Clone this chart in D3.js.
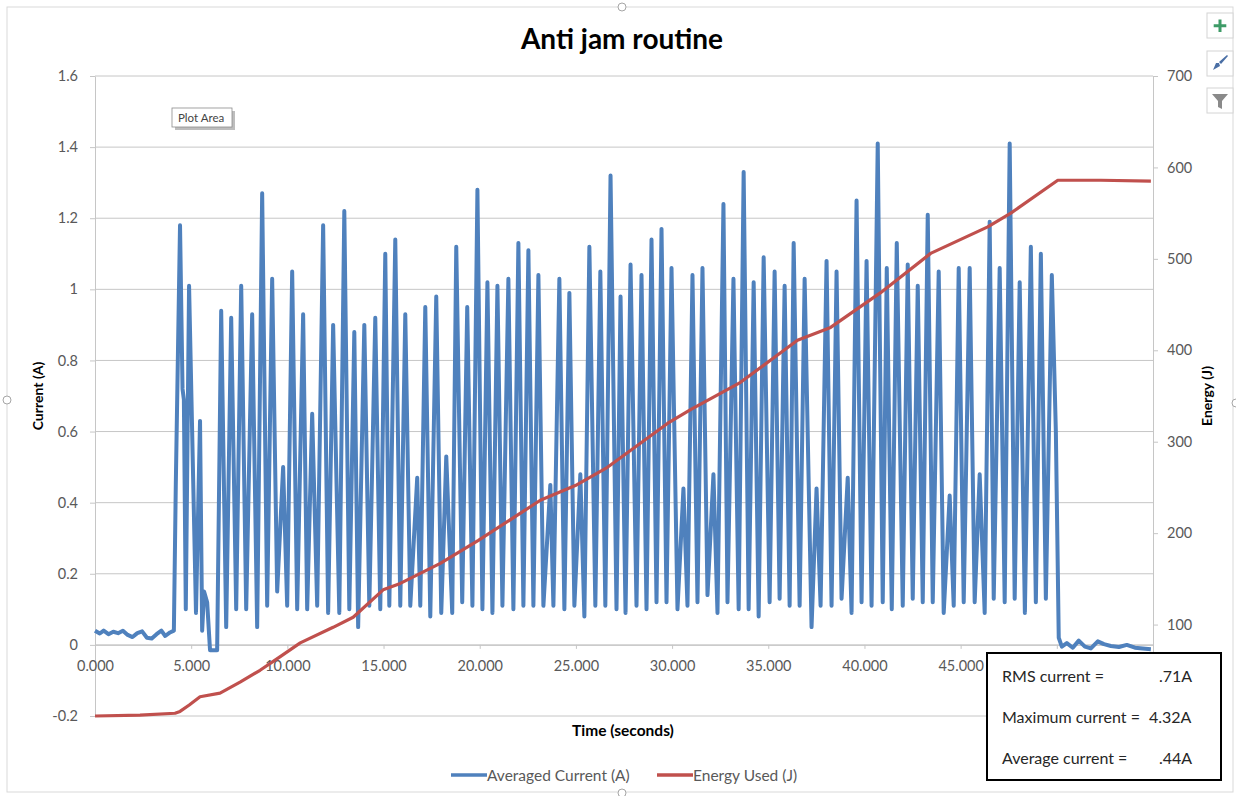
<!DOCTYPE html>
<html>
<head>
<meta charset="utf-8">
<script src="https://cdn.jsdelivr.net/npm/d3@7"></script>
<style>
  body { margin: 0; background: #fff; }
  text { font-family: Lato, "Open Sans", sans-serif; }
</style>
</head>
<body>
<script>
// chart data
var chartTitle = "Anti jam routine";
var xTitle = "Time (seconds)";
var leftTitle = "Current (A)";
var rightTitle = "Energy (J)";
var seriesNames = ["Averaged Current (A)", "Energy Used (J)"];
var seriesColors = ["#4F81BD", "#C0504D"];

var xTicks = [0, 5, 10, 15, 20, 25, 30, 35, 40, 45, 50, 55];
var leftTicks = [-0.2, 0, 0.2, 0.4, 0.6, 0.8, 1, 1.2, 1.4, 1.6];
var rightTicks = [0, 100, 200, 300, 400, 500, 600, 700];
// labels that sit under the stats box in the picture
var hiddenX = [50, 55];
var hiddenRight = [0];

var statLabels = ["RMS current =", "Maximum current =", "Average current ="];
var statValues = [".71A", "4.32A", ".44A"];

// averaged current: time (s) and amps
var currentTime = [
  0, 0.25, 0.45, 0.7, 0.95, 1.2, 1.45, 1.7, 1.95, 2.2, 2.45, 2.7, 2.95, 3.2, 3.45, 3.65, 3.9, 4.1,
  4.2, 4.42, 4.55, 4.62, 4.72, 4.89, 5.25, 5.46, 5.57, 5.67, 5.83, 5.98, 6.35,
  6.56, 6.82, 7.08, 7.34, 7.6, 7.86, 8.17, 8.43, 8.69, 8.95, 9.21, 9.47, 9.78, 9.99,
  10.25, 10.51, 10.82, 11.03, 11.29, 11.55, 11.86, 12.12, 12.38, 12.7, 12.96, 13.22, 13.48, 13.68,
  14.0, 14.26, 14.57, 14.83, 15.09, 15.3, 15.61, 15.87, 16.13, 16.39, 16.75, 16.91, 17.17, 17.43,
  17.74, 18.0, 18.26, 18.57, 18.78, 19.09, 19.35, 19.62, 19.88, 20.14, 20.4, 20.66, 20.92, 21.18,
  21.49, 21.75, 22.01, 22.27, 22.53, 22.79, 23.05, 23.31, 23.67, 23.83, 24.14, 24.4, 24.66, 24.92,
  25.23, 25.44, 25.7, 26.01, 26.27, 26.53, 26.8, 27.11, 27.32, 27.58, 27.84, 28.15, 28.41, 28.67,
  28.93, 29.19, 29.45, 29.71, 29.97, 30.28, 30.59, 30.8, 31.06, 31.32, 31.58, 31.84, 32.15, 32.36,
  32.67, 32.88, 33.19, 33.46, 33.72, 33.98, 34.24, 34.5, 34.76, 35.07, 35.33, 35.59, 35.85, 36.11,
  36.32, 36.63, 36.89, 37.25, 37.51, 37.72, 38.03, 38.29, 38.55, 38.81, 39.13, 39.33, 39.59, 39.85,
  40.11, 40.37, 40.69, 40.95, 41.16, 41.42, 41.68, 41.99, 42.25, 42.51, 42.77, 43.03, 43.29, 43.55,
  43.86, 44.12, 44.43, 44.64, 44.9, 45.16, 45.47, 45.73, 45.99, 46.25, 46.51, 46.72, 47.03, 47.29,
  47.55, 47.81, 48.07, 48.34, 48.65, 48.91, 49.17, 49.43, 49.74, 49.95,
  50.1, 50.26, 50.52, 50.83, 51.14, 51.46, 51.77, 52.13, 52.45, 52.81, 53.23, 53.64, 54.06, 54.47, 54.89
];
var currentAmps = [
  0.040, 0.032, 0.040, 0.030, 0.037, 0.033, 0.040, 0.028, 0.022, 0.033, 0.038, 0.020, 0.018, 0.030, 0.040, 0.025, 0.035, 0.040,
  0.45, 1.18, 0.72, 0.69, 0.10, 1.01, 0.09, 0.63, 0.04, 0.15, 0.12, -0.015, -0.015,
  0.94, 0.05, 0.92, 0.10, 1.01, 0.10, 0.93, 0.05, 1.27, 0.11, 1.03, 0.15, 0.50, 0.11,
  1.05, 0.10, 0.93, 0.10, 0.65, 0.11, 1.18, 0.09, 0.90, 0.09, 1.22, 0.10, 0.88, 0.05,
  0.90, 0.11, 0.92, 0.10, 1.10, 0.11, 1.14, 0.11, 0.93, 0.11, 0.47, 0.11, 0.95, 0.08,
  0.98, 0.09, 0.53, 0.09, 1.12, 0.12, 0.95, 0.11, 1.28, 0.10, 1.02, 0.09, 1.01, 0.11,
  1.03, 0.10, 1.13, 0.11, 1.11, 0.11, 1.04, 0.11, 0.45, 0.11, 1.03, 0.10, 0.99, 0.11,
  0.48, 0.08, 1.12, 0.11, 1.05, 0.11, 1.32, 0.10, 0.98, 0.09, 1.07, 0.11, 1.04, 0.10,
  1.14, 0.12, 1.17, 0.12, 1.06, 0.10, 0.44, 0.11, 1.04, 0.12, 1.06, 0.14, 0.48, 0.09,
  1.24, 0.12, 1.03, 0.10, 1.33, 0.10, 1.02, 0.08, 1.09, 0.12, 1.05, 0.13, 1.01, 0.11,
  1.13, 0.11, 1.03, 0.05, 0.44, 0.11, 1.08, 0.11, 1.05, 0.13, 0.47, 0.09, 1.25, 0.12,
  1.08, 0.11, 1.41, 0.12, 1.06, 0.10, 1.13, 0.11, 1.07, 0.13, 1.01, 0.12, 1.21, 0.12,
  1.05, 0.09, 0.42, 0.11, 1.06, 0.12, 1.06, 0.12, 0.48, 0.09, 1.19, 0.13, 1.06, 0.12,
  1.41, 0.13, 1.02, 0.09, 1.12, 0.12, 1.10, 0.13, 1.04, 0.60,
  0.02, -0.005, 0.005, -0.008, 0.012, -0.005, -0.01, 0.01, 0.002, -0.003, -0.006, 0.0, -0.008, -0.01, -0.012
];

// energy used: time (s) and joules
var energyTime = [0, 2.34, 4.16, 4.42, 4.9, 5.46, 6.5, 7.54, 8.58, 9.63, 10.67, 12.38, 13.42, 14.98, 15.87,
  17.95, 19.93, 23.15, 24.97, 26.64, 29.76, 30.96, 33.56, 36.52, 38.24, 40.84, 43.44, 46.41, 47.61,
  50.05, 52.29, 54.89];
var energyJ = [0, 1, 3, 5, 12, 21, 25, 37, 50, 65, 80, 97, 108, 138, 145,
  167, 192, 236, 252, 272, 320, 335, 365, 411, 425, 463, 506, 535, 550,
  586, 586, 585];

var width = 1236, height = 796;
var plotLeft = 95, plotRight = 1153, plotTop = 76, plotBottom = 716;
var labelColor = "#595959", gridColor = "#C6C6C6";

var svg = d3.select("body").append("svg")
    .attr("width", width)
    .attr("height", height);

// chart frame
svg.append("rect")
    .attr("x", 7).attr("y", 7)
    .attr("width", 1226).attr("height", 785)
    .attr("fill", "#fff")
    .attr("stroke", "#D9D9D9");

var x = d3.scaleLinear().domain([0, 55]).range([plotLeft, plotRight]);
var yL = d3.scaleLinear().domain([-0.2, 1.6]).range([plotBottom, plotTop]);
var yR = d3.scaleLinear().domain([0, 700]).range([plotBottom, plotTop]);

// gridlines
svg.append("g").selectAll("line")
    .data(leftTicks)
    .enter()
    .append("line")
    .attr("x1", plotLeft).attr("x2", plotRight)
    .attr("y1", function(d) { return yL(d); })
    .attr("y2", function(d) { return yL(d); })
    .attr("stroke", gridColor)
    .attr("stroke-width", 1);

function styleAxis(g) {
    g.selectAll("path.domain").attr("stroke", gridColor);
    g.selectAll(".tick line").attr("stroke", gridColor);
    g.selectAll("text")
        .attr("fill", labelColor)
        .style("font-size", "14.5px")
        .style("font-family", "Lato, sans-serif");
}

svg.append("g")
    .attr("transform", "translate(" + plotLeft + ",0)")
    .call(d3.axisLeft(yL).tickValues(leftTicks).tickSize(5).tickSizeOuter(0).tickPadding(12)
        .tickFormat(function(d) { return String(+d.toFixed(1)); }))
    .call(styleAxis);

svg.append("g")
    .attr("transform", "translate(" + plotRight + ",0)")
    .call(d3.axisRight(yR).tickValues(rightTicks).tickSize(5).tickSizeOuter(0).tickPadding(9)
        .tickFormat(function(d) { return hiddenRight.indexOf(d) >= 0 ? "" : d; }))
    .call(styleAxis);

svg.append("g")
    .attr("transform", "translate(0," + yL(0) + ")")
    .call(d3.axisBottom(x).tickValues(xTicks).tickSize(4).tickSizeOuter(0).tickPadding(12)
        .tickFormat(function(d) { return hiddenX.indexOf(d) >= 0 ? "" : d3.format(".3f")(d); }))
    .call(styleAxis);

// series
var currentData = currentTime.map(function(t, i) { return [t, currentAmps[i]]; });
var energyData = energyTime.map(function(t, i) { return [t, energyJ[i]]; });

svg.append("path")
    .datum(currentData)
    .attr("fill", "none")
    .attr("stroke", seriesColors[0])
    .attr("stroke-width", 4)
    .attr("stroke-linejoin", "round")
    .attr("d", d3.line().x(function(d) { return x(d[0]); }).y(function(d) { return yL(d[1]); }));

svg.append("path")
    .datum(energyData)
    .attr("fill", "none")
    .attr("stroke", seriesColors[1])
    .attr("stroke-width", 3.2)
    .attr("stroke-linejoin", "round")
    .attr("d", d3.line().x(function(d) { return x(d[0]); }).y(function(d) { return yR(d[1]); }));

// titles
svg.append("text")
    .attr("x", 622).attr("y", 49)
    .attr("text-anchor", "middle")
    .style("font-size", "28px")
    .style("font-weight", "bold")
    .attr("fill", "#000")
    .text(chartTitle);

svg.append("text")
    .attr("x", 623).attr("y", 736)
    .attr("text-anchor", "middle")
    .style("font-size", "15.5px")
    .style("font-weight", "bold")
    .attr("fill", "#000")
    .text(xTitle);

svg.append("text")
    .attr("transform", "translate(43,396) rotate(-90)")
    .attr("text-anchor", "middle")
    .style("font-size", "14px")
    .style("font-weight", "bold")
    .attr("fill", "#000")
    .text(leftTitle);

svg.append("text")
    .attr("transform", "translate(1212,396) rotate(-90)")
    .attr("text-anchor", "middle")
    .style("font-size", "14px")
    .style("font-weight", "bold")
    .attr("fill", "#000")
    .text(rightTitle);

// legend
var legend = svg.append("g").selectAll("g")
    .data(seriesNames)
    .enter()
    .append("g")
    .attr("transform", function(d, i) { return "translate(" + [451, 657][i] + ",775)"; });

legend.append("line")
    .attr("x1", 0).attr("x2", 36)
    .attr("stroke", function(d, i) { return seriesColors[i]; })
    .attr("stroke-width", 3.5);

legend.append("text")
    .attr("x", 36).attr("y", 5.5)
    .style("font-size", "15.5px")
    .attr("fill", labelColor)
    .text(function(d) { return d; });

// stats text box
var box = svg.append("g");
box.append("rect")
    .attr("x", 987).attr("y", 653)
    .attr("width", 234).attr("height", 127)
    .attr("fill", "#fff")
    .attr("stroke", "#000")
    .attr("stroke-width", 2);

box.selectAll("text.lab")
    .data(statLabels)
    .enter()
    .append("text")
    .attr("class", "lab")
    .attr("x", 1002)
    .attr("y", function(d, i) { return 682 + i * 41; })
    .style("font-size", "16px")
    .attr("fill", "#262626")
    .text(function(d) { return d; });

box.selectAll("text.val")
    .data(statValues)
    .enter()
    .append("text")
    .attr("class", "val")
    .attr("x", function(d, i) { return i === 1 ? 1149 : 1159; })
    .attr("y", function(d, i) { return 682 + i * 41; })
    .style("font-size", "16px")
    .attr("fill", "#262626")
    .text(function(d) { return d; });

// "Plot Area" hover tip
svg.append("rect")
    .attr("x", 175).attr("y", 111)
    .attr("width", 60).attr("height", 19)
    .attr("fill", "#BDBDBD");
svg.append("rect")
    .attr("x", 172).attr("y", 108)
    .attr("width", 60).attr("height", 19)
    .attr("fill", "#fff")
    .attr("stroke", "#8C8C8C")
    .attr("stroke-width", 0.8);
svg.append("text")
    .attr("x", 178).attr("y", 122)
    .style("font-size", "11.5px")
    .attr("fill", "#444")
    .text("Plot Area");

// chart tool buttons on the right
svg.append("g").selectAll("rect")
    .data([13, 51, 88])
    .enter()
    .append("rect")
    .attr("x", 1207).attr("y", function(d) { return d; })
    .attr("width", 26).attr("height", 25)
    .attr("fill", "#fff")
    .attr("stroke", "#D4D4D4");

svg.append("path")
    .attr("d", "M1220,19.5V32M1213.7,25.7H1226.3")
    .attr("stroke", "#3E9B67")
    .attr("stroke-width", 3);

svg.append("path")
    .attr("d", "M1213,70 L1216,63 L1219,63 L1220,66 Z M1219,62 L1227,55 L1228,56 L1221,64 Z")
    .attr("fill", "#4A6FA5");

svg.append("path")
    .attr("d", "M1212,94 L1228,94 L1222,101 L1222,109 L1218,107 L1218,101 Z")
    .attr("fill", "#8A8A8A");

// selection handles
svg.append("g").selectAll("circle")
    .data([[622, 7], [622, 793], [7, 400], [1236, 403]])
    .enter()
    .append("circle")
    .attr("cx", function(d) { return d[0]; })
    .attr("cy", function(d) { return d[1]; })
    .attr("r", 4)
    .attr("fill", "#fff")
    .attr("stroke", "#A6A6A6");
</script>
</body>
</html>
